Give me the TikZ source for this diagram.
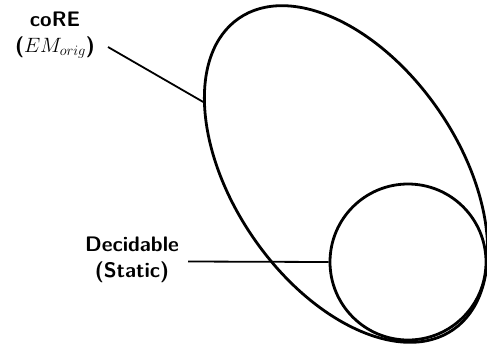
\documentclass[tikz,border=0pt]{standalone}
\begin{document}
\begin{tikzpicture}[x=1pt,y=-1pt,
  setline/.style={line width=2.8pt},
  conn/.style={line width=1.8pt},
  lbl/.style={font=\fontsize{21}{26}\selectfont\sffamily\bfseries, align=center, inner sep=0pt}]
\useasboundingbox (0,0) rectangle (487,346);
\draw[setline, rotate around={-55.5:(346,174)}] (346,174) ellipse [x radius=189pt, y radius=112.5pt];
\node[draw, setline, circle, minimum size=156pt, inner sep=0pt] (dec) at (408,262) {};
\node[lbl] (coreL) at (55,35) {coRE\\($EM_{orig}$)};
\node[lbl] (decL) at (132,260) {Decidable\\(Static)};
\coordinate (c1) at (108,47);
\coordinate (e1) at (205,103);
\coordinate (d1) at (188,261.5);
\draw[conn] (c1) -- (e1);
\draw[conn] (d1) -- (dec.west);
\end{tikzpicture}
\end{document}
